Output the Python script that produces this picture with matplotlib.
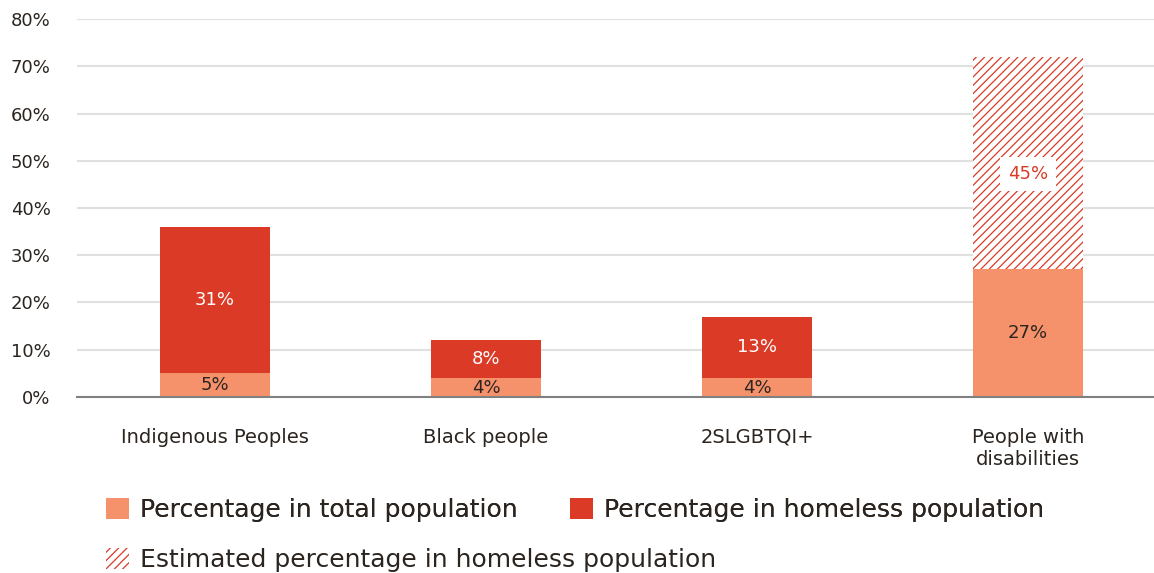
import matplotlib.pyplot as plt
from matplotlib.patches import Patch

categories = ["Indigenous Peoples", "Black people", "2SLGBTQI+", "People with\ndisabilities"]
total_pop = [5, 4, 4, 27]
homeless_pop = [31, 8, 13, 0]
estimated_homeless = [0, 0, 0, 45]
yticks = [0, 10, 20, 30, 40, 50, 60, 70, 80]

c_light = "#F5926B"
c_red = "#DB3A26"
c_text = "#2B241F"

plt.rcParams['font.family'] = ['DejaVu Sans']
plt.rcParams['hatch.linewidth'] = 0.9

fig = plt.figure(figsize=(11.54, 5.73), dpi=100)
ax = fig.add_axes([0.0667, 0.3072, 0.9333, 0.6596])

x = range(len(categories))
w = 0.406
ax.bar(x, total_pop, w, color=c_light, zorder=3)
ax.bar(x, homeless_pop, w, bottom=total_pop, color=c_red, zorder=3)
ax.bar(x, estimated_homeless, w, bottom=total_pop, facecolor="white",
       edgecolor=c_red, hatch="////", linewidth=0, zorder=3)

for i in x:
    ax.text(i, total_pop[i] / 2, f"{total_pop[i]}%", ha="center", va="center",
            color=c_text, fontsize=13, zorder=4)
    if homeless_pop[i]:
        ax.text(i, total_pop[i] + homeless_pop[i] / 2, f"{homeless_pop[i]}%",
                ha="center", va="center", color="white", fontsize=13, zorder=4)
    if estimated_homeless[i]:
        ax.text(i, total_pop[i] + estimated_homeless[i] / 2 - 2.3, f"{estimated_homeless[i]}%",
                ha="center", va="center", color=c_red, fontsize=13, zorder=4,
                bbox=dict(facecolor="white", edgecolor="none", pad=6))

ax.set_xlim(-0.509, 3.465)
ax.set_ylim(0, 80)
ax.set_yticks(yticks)
ax.set_yticklabels([f"{v}%" for v in yticks], fontsize=13, color=c_text)
ax.set_xticks(list(x))
ax.set_xticklabels(categories, fontsize=14, color=c_text, linespacing=1.25)
ax.tick_params(axis="both", length=0)
ax.tick_params(axis="y", pad=19)
ax.tick_params(axis="x", pad=22)

ax.grid(axis="y", color="#E0E0E0", linewidth=1.5, zorder=0)
for s in ["top", "right", "left"]:
    ax.spines[s].set_visible(False)
ax.spines["bottom"].set_color("#808080")
ax.spines["bottom"].set_linewidth(1.5)
ax.spines["bottom"].set_zorder(5)

h_total = Patch(facecolor=c_light, label="Percentage in total population")
h_home = Patch(facecolor=c_red, label="Percentage in homeless population")
h_est = Patch(facecolor="white", edgecolor=c_red, hatch="////", linewidth=0,
              label="Estimated percentage in homeless population")

leg_kw = dict(frameon=False, fontsize=18, handlelength=0.92, handleheight=0.92,
              handletextpad=0.44, columnspacing=2.1, labelcolor=c_text,
              borderaxespad=0, borderpad=0)
leg1 = fig.legend(handles=[h_total, h_home], ncol=2, loc="center left",
                  bbox_to_anchor=(0.0919, 1 - 510 / 573), **leg_kw)
fig.add_artist(leg1)
fig.legend(handles=[h_est], loc="center left",
           bbox_to_anchor=(0.0919, 1 - 560 / 573), **leg_kw)

fig.savefig("out.png", dpi=100)
